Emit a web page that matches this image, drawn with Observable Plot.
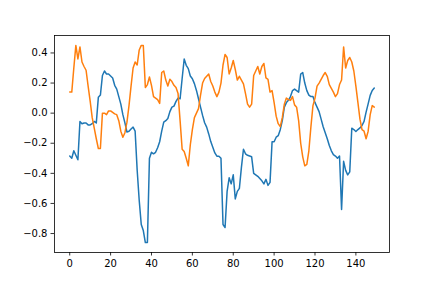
<!DOCTYPE html>
<html><head><meta charset="utf-8">
<script src="https://cdn.jsdelivr.net/npm/d3@7"></script>
<script src="https://cdn.jsdelivr.net/npm/@observablehq/plot@0.6"></script>
<style>body{margin:0;background:#fff}</style>
</head><body><div id="chart"></div>
<script>
const blue = [
-0.285,-0.30,-0.25,-0.28,-0.31,-0.055,-0.07,-0.065,-0.065,-0.078,
-0.078,-0.07,-0.055,-0.065,0.105,0.12,0.25,0.28,0.26,0.26,
0.247,0.234,0.185,0.16,0.11,0.06,-0.01,-0.065,-0.125,-0.12,
-0.105,-0.093,-0.12,-0.38,-0.58,-0.74,-0.78,-0.86,-0.86,-0.30,
-0.26,-0.27,-0.26,-0.23,-0.19,-0.12,-0.06,-0.05,-0.035,0.01,
0.04,0.047,0.078,0.10,0.096,0.23,0.36,0.318,0.296,0.247,
0.229,0.196,0.151,0.096,0.04,-0.015,-0.064,-0.093,-0.138,-0.189,
-0.226,-0.264,-0.286,-0.286,-0.30,-0.74,-0.76,-0.52,-0.43,-0.47,
-0.41,-0.57,-0.52,-0.50,-0.36,-0.24,-0.27,-0.28,-0.285,-0.29,
-0.40,-0.41,-0.42,-0.435,-0.45,-0.47,-0.44,-0.48,-0.46,-0.19,
-0.19,-0.16,-0.15,-0.11,-0.05,0.04,0.07,0.085,0.11,0.15,
0.16,0.15,0.14,0.26,0.27,0.2,0.15,0.12,0.11,0.11,
0.07,0.04,0.01,-0.04,-0.09,-0.13,-0.17,-0.215,-0.25,-0.275,
-0.285,-0.30,-0.285,-0.64,-0.32,-0.38,-0.41,-0.39,-0.10,-0.109,
-0.122,-0.109,-0.098,-0.082,-0.055,0.007,0.062,0.118,0.151,0.167
];
const orange = [
0.14,0.14,0.30,0.45,0.36,0.44,0.34,0.31,0.285,0.18,
0.08,-0.03,-0.10,-0.17,-0.235,-0.235,0.0,0.0,-0.01,0.015,
0.015,0.005,-0.005,-0.01,-0.05,-0.12,-0.16,-0.13,-0.06,0.05,
0.18,0.30,0.34,0.32,0.42,0.45,0.45,0.17,0.19,0.24,
0.185,0.11,0.10,0.09,0.065,0.27,0.28,0.22,0.18,0.225,
0.21,0.185,0.17,0.13,-0.05,-0.24,-0.255,-0.30,-0.35,-0.21,
-0.11,-0.03,0.0,0.03,0.12,0.2,0.23,0.245,0.26,0.21,
0.18,0.14,0.11,0.14,0.2,0.32,0.39,0.37,0.26,0.30,
0.35,0.29,0.22,0.245,0.22,0.195,0.13,0.06,0.04,0.06,
0.25,0.28,0.31,0.26,0.31,0.33,0.235,0.225,0.14,0.15,
0.07,-0.02,-0.07,-0.09,-0.03,0.06,0.10,0.09,0.085,0.11,
0.055,0.04,-0.05,-0.20,-0.29,-0.35,-0.34,-0.25,-0.09,0.05,
0.10,0.18,0.20,0.225,0.25,0.27,0.245,0.19,0.165,0.14,
0.11,0.13,0.19,0.22,0.44,0.30,0.35,0.37,0.34,0.28,
0.18,0.07,-0.04,-0.11,-0.12,-0.17,-0.12,-0.01,0.05,0.04
];
const xTicks = [0,20,40,60,80,100,120,140];
const yTicks = [-0.8,-0.6,-0.4,-0.2,0.0,0.2,0.4];

const rowsBlue = blue.map((v,i)=>({x:i,y:v}));
const rowsOrange = orange.map((v,i)=>({x:i,y:v}));

const chart = Plot.plot({
  width:432, height:288,
  marginLeft:54, marginRight:43, marginTop:35, marginBottom:36,
  style:{fontFamily:"DejaVu Sans", fontSize:"10px", color:"black", background:"white", overflow:"visible"},
  x:{domain:[-7.45,156.45]},
  y:{domain:[-0.926,0.516]},
  marks:[
    Plot.axisX(xTicks,{tickSize:3.5, tickPadding:3.5, label:null, tickFormat:d3.format("d"), fontSize:10, strokeWidth:0.8}),
    Plot.axisY(yTicks,{tickSize:3.5, tickPadding:3.5, label:null, tickFormat:d3.format(".1f"), fontSize:10, strokeWidth:0.8}),
    Plot.lineY(rowsBlue,{x:"x", y:"y", stroke:"#1f77b4", strokeWidth:1.5}),
    Plot.lineY(rowsOrange,{x:"x", y:"y", stroke:"#ff7f0e", strokeWidth:1.5}),
    Plot.frame({stroke:"black", strokeWidth:0.8})
  ]
});
document.getElementById("chart").appendChild(chart);
</script>
</body></html>
